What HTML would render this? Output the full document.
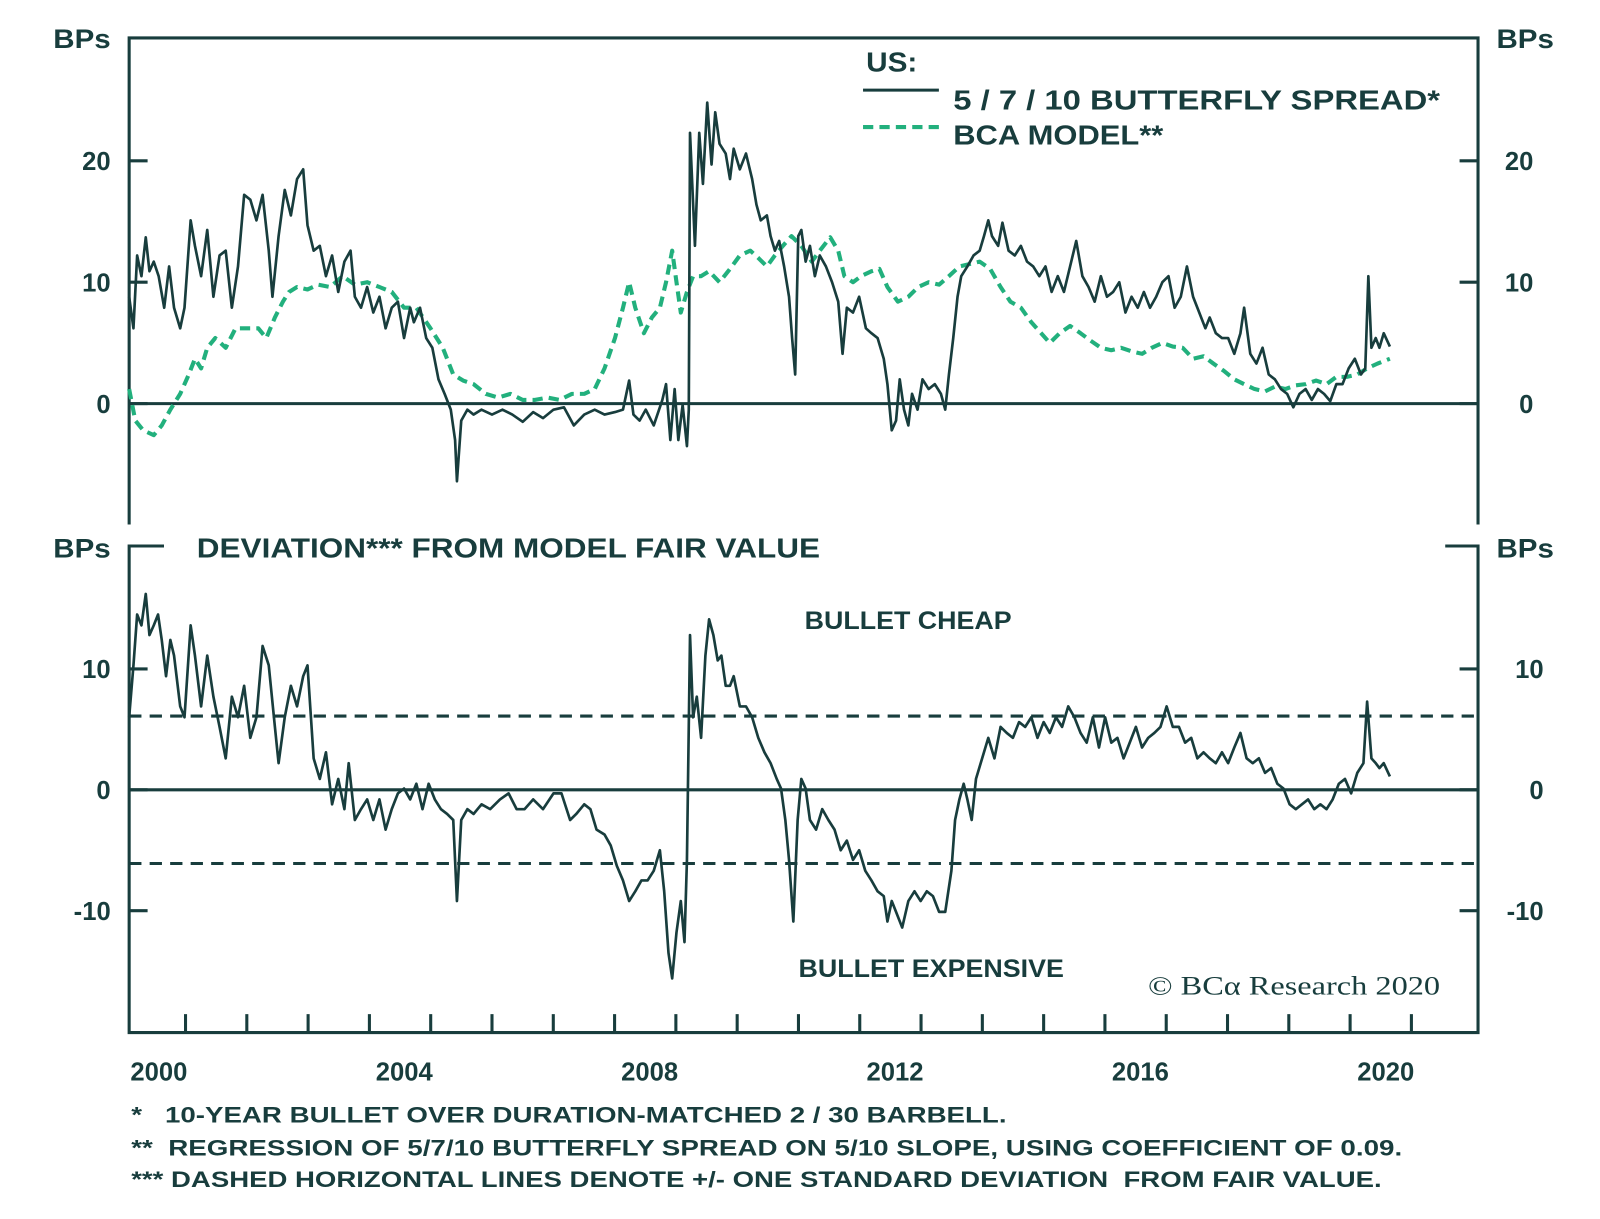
<!DOCTYPE html>
<html><head><meta charset="utf-8">
<style>
html,body{margin:0;padding:0;background:#fff;}
svg{display:block;}
text{font-family:"Liberation Sans",sans-serif;font-weight:bold;fill:#183d3d;}
</style></head>
<body>
<svg id="chart" width="1600" height="1219" viewBox="0 0 1561 1190" preserveAspectRatio="none" xmlns="http://www.w3.org/2000/svg">
<g id="static">
  <path d="M126,512 V37 H1442 V512" fill="none" stroke="#183d3d" stroke-width="3"/>
  <path d="M160,533 H126 V1008 H1442 V533 H1410" fill="none" stroke="#183d3d" stroke-width="3"/>
  <text x="52" y="47" font-size="26" textLength="56" lengthAdjust="spacingAndGlyphs">BPs</text>
  <text x="1460" y="47" font-size="26" textLength="56" lengthAdjust="spacingAndGlyphs">BPs</text>
  <text x="52" y="544" font-size="26" textLength="56" lengthAdjust="spacingAndGlyphs">BPs</text>
  <text x="1460" y="544" font-size="26" textLength="56" lengthAdjust="spacingAndGlyphs">BPs</text>
  <text x="845" y="70" font-size="27" textLength="50" lengthAdjust="spacingAndGlyphs">US:</text>
  <line x1="842" y1="88" x2="916" y2="88" stroke="#183d3d" stroke-width="3"/>
  <text x="930" y="107" font-size="27" textLength="475" lengthAdjust="spacingAndGlyphs">5 / 7 / 10 BUTTERFLY SPREAD*</text>
  <line x1="842" y1="124" x2="916" y2="124" stroke="#22b07d" stroke-width="4" stroke-dasharray="10,6"/>
  <text x="930" y="141" font-size="27" textLength="205" lengthAdjust="spacingAndGlyphs">BCA MODEL**</text>
  <text x="192" y="544" font-size="27" textLength="608" lengthAdjust="spacingAndGlyphs">DEVIATION*** FROM MODEL FAIR VALUE</text>
  <text x="785" y="614" font-size="24" textLength="202" lengthAdjust="spacingAndGlyphs">BULLET CHEAP</text>
  <text x="779" y="954" font-size="24" textLength="259" lengthAdjust="spacingAndGlyphs">BULLET EXPENSIVE</text>
  <text x="1120" y="971" font-size="26" textLength="285" lengthAdjust="spacingAndGlyphs" style="font-family:'Liberation Serif',serif;font-weight:normal">© BCα Research 2020</text>
  <text x="128" y="1096" font-size="22" textLength="854" lengthAdjust="spacingAndGlyphs">*&#160;&#160;&#160;10-YEAR BULLET OVER DURATION-MATCHED 2 / 30 BARBELL.</text>
  <text x="128" y="1128" font-size="22" textLength="1240" lengthAdjust="spacingAndGlyphs">**&#160;&#160;REGRESSION OF 5/7/10 BUTTERFLY SPREAD ON 5/10 SLOPE, USING COEFFICIENT OF 0.09.</text>
  <text x="128" y="1159" font-size="22" textLength="1220" lengthAdjust="spacingAndGlyphs">***&#160;DASHED HORIZONTAL LINES DENOTE +/- ONE STANDARD DEVIATION&#160;&#160;FROM FAIR VALUE.</text>
</g>
<g id="dyn"></g>
</svg>
<script>
const flyDates=[1999.50,1999.57,1999.63,1999.70,1999.77,1999.83,1999.90,1999.98,2000.07,2000.15,2000.23,2000.33,2000.40,2000.50,2000.57,2000.67,2000.77,2000.87,2000.97,2001.07,2001.17,2001.27,2001.37,2001.47,2001.57,2001.67,2001.77,2001.83,2001.93,2002.03,2002.13,2002.23,2002.33,2002.40,2002.50,2002.60,2002.70,2002.80,2002.90,2003.00,2003.10,2003.17,2003.27,2003.37,2003.47,2003.57,2003.67,2003.77,2003.87,2003.97,2004.07,2004.13,2004.23,2004.33,2004.43,2004.53,2004.63,2004.73,2004.80,2004.83,2004.90,2005.00,2005.10,2005.23,2005.40,2005.57,2005.73,2005.90,2006.07,2006.23,2006.40,2006.57,2006.73,2006.90,2007.07,2007.23,2007.40,2007.53,2007.63,2007.70,2007.80,2007.90,2008.03,2008.17,2008.23,2008.30,2008.37,2008.43,2008.50,2008.57,2008.60,2008.62,2008.70,2008.77,2008.83,2008.90,2008.97,2009.03,2009.10,2009.20,2009.27,2009.33,2009.43,2009.53,2009.63,2009.70,2009.77,2009.87,2009.93,2010.00,2010.07,2010.15,2010.23,2010.28,2010.33,2010.38,2010.43,2010.50,2010.57,2010.65,2010.73,2010.83,2010.93,2011.03,2011.10,2011.17,2011.27,2011.37,2011.48,2011.57,2011.67,2011.77,2011.83,2011.90,2011.97,2012.03,2012.10,2012.17,2012.23,2012.32,2012.40,2012.50,2012.60,2012.70,2012.77,2012.83,2012.90,2012.97,2013.03,2013.13,2013.23,2013.33,2013.40,2013.47,2013.53,2013.63,2013.70,2013.80,2013.90,2014.00,2014.10,2014.20,2014.30,2014.40,2014.50,2014.60,2014.70,2014.80,2014.90,2015.00,2015.10,2015.20,2015.30,2015.40,2015.50,2015.60,2015.70,2015.80,2015.90,2016.00,2016.10,2016.20,2016.30,2016.40,2016.50,2016.60,2016.70,2016.80,2016.90,2017.00,2017.07,2017.17,2017.27,2017.37,2017.47,2017.57,2017.63,2017.73,2017.83,2017.93,2018.03,2018.13,2018.23,2018.33,2018.43,2018.53,2018.63,2018.73,2018.83,2018.93,2019.03,2019.13,2019.23,2019.33,2019.43,2019.53,2019.60,2019.65,2019.70,2019.77,2019.83,2019.90,2020.00];
const flyValues=[8.8,6.2,12.2,10.5,13.7,10.9,11.7,10.5,7.9,11.3,7.9,6.2,7.9,15.1,13.0,10.5,14.3,8.8,12.2,12.6,7.9,11.3,17.2,16.8,15.1,17.2,12.6,8.8,13.8,17.6,15.5,18.5,19.3,14.7,12.6,13.0,10.5,12.2,9.2,11.7,12.6,8.8,7.9,9.6,7.5,8.8,6.2,7.9,8.4,5.4,7.9,6.7,7.9,5.4,4.6,2.0,0.8,-0.5,-3.0,-6.4,-1.4,-0.5,-0.9,-0.5,-0.9,-0.5,-0.9,-1.5,-0.7,-1.2,-0.5,-0.3,-1.8,-0.9,-0.5,-0.9,-0.7,-0.5,1.9,-0.9,-1.4,-0.5,-1.8,0.3,1.6,-3.0,1.2,-3.0,-0.1,-3.5,-0.5,22.3,13.0,22.3,18.1,24.8,19.7,24.0,21.4,20.6,18.5,21.0,19.3,20.6,18.5,16.4,15.1,15.5,13.8,12.6,13.4,11.3,8.8,5.4,2.4,13.8,14.3,11.7,13.0,10.5,12.2,11.3,10.0,8.4,4.1,7.9,7.5,8.8,6.2,5.8,5.4,3.7,1.6,-2.2,-1.4,2.0,-0.5,-1.8,0.8,-0.5,2.0,1.2,1.6,0.8,-0.5,2.4,5.4,8.8,10.5,11.3,12.2,12.6,13.8,15.1,13.8,13.0,14.9,12.6,12.2,13.0,11.7,11.3,10.5,11.3,9.2,10.5,9.2,11.3,13.4,10.5,9.6,8.4,10.5,8.8,9.2,10.0,7.5,8.8,7.9,9.2,7.9,8.8,10.0,10.5,7.9,8.8,11.3,8.8,7.5,6.2,7.1,5.8,5.4,5.4,4.1,5.8,7.9,4.1,3.3,4.6,2.4,2.0,1.2,0.8,-0.3,0.8,1.2,0.3,1.2,0.8,0.2,1.6,1.6,2.9,3.7,2.4,2.9,10.5,4.6,5.4,4.6,5.8,4.7];
const modelDates=[1999.50,1999.60,1999.73,1999.90,2000.03,2000.17,2000.33,2000.47,2000.57,2000.67,2000.77,2000.90,2001.07,2001.23,2001.40,2001.60,2001.73,2001.87,2002.00,2002.10,2002.23,2002.40,2002.57,2002.77,2002.97,2003.17,2003.37,2003.57,2003.77,2003.97,2004.17,2004.40,2004.60,2004.77,2004.93,2005.10,2005.30,2005.50,2005.70,2005.90,2006.10,2006.30,2006.50,2006.70,2006.90,2007.07,2007.23,2007.40,2007.53,2007.63,2007.73,2007.87,2008.00,2008.13,2008.23,2008.33,2008.40,2008.47,2008.57,2008.67,2008.80,2008.93,2009.10,2009.27,2009.43,2009.60,2009.73,2009.87,2010.00,2010.13,2010.27,2010.43,2010.60,2010.73,2010.90,2011.03,2011.13,2011.27,2011.40,2011.57,2011.70,2011.83,2012.00,2012.17,2012.33,2012.50,2012.67,2012.83,2013.00,2013.17,2013.33,2013.50,2013.67,2013.83,2014.00,2014.17,2014.33,2014.47,2014.63,2014.80,2014.97,2015.13,2015.30,2015.47,2015.63,2015.80,2015.97,2016.13,2016.30,2016.47,2016.63,2016.80,2016.97,2017.13,2017.30,2017.47,2017.63,2017.80,2017.97,2018.13,2018.30,2018.47,2018.63,2018.80,2018.97,2019.13,2019.30,2019.47,2019.63,2019.80,2020.00];
const modelValues=[1.2,-1.4,-2.2,-2.6,-1.8,-0.5,0.8,2.4,3.7,2.9,4.6,5.4,4.6,6.2,6.2,6.2,5.4,7.1,8.4,9.2,9.6,9.4,9.8,9.6,10.5,9.8,10.0,9.6,9.2,7.9,7.9,6.2,4.6,2.4,1.9,1.6,0.8,0.5,0.8,0.3,0.3,0.5,0.3,0.8,0.8,1.2,2.9,5.4,7.9,10.0,7.9,5.8,7.1,7.9,10.0,12.6,10.0,7.5,9.2,10.5,10.5,10.9,10.0,11.1,12.2,12.6,12.0,11.3,12.2,13.0,13.8,13.0,11.7,12.6,13.7,12.6,10.5,10.0,10.5,10.9,11.1,9.6,8.4,8.8,9.6,10.0,9.8,10.5,11.3,11.5,11.7,11.1,9.6,8.4,7.9,6.7,5.8,5.0,5.8,6.4,5.8,5.2,4.6,4.4,4.6,4.3,4.1,4.6,5.0,4.7,4.6,3.7,3.9,3.3,2.7,2.0,1.6,1.2,1.0,1.4,1.2,1.5,1.6,1.9,1.6,2.2,2.2,2.4,2.9,3.3,3.7];
const devDates=[1999.50,1999.57,1999.63,1999.70,1999.77,1999.83,1999.90,1999.97,2000.03,2000.10,2000.17,2000.23,2000.33,2000.40,2000.50,2000.57,2000.67,2000.77,2000.87,2000.97,2001.07,2001.17,2001.27,2001.37,2001.47,2001.57,2001.67,2001.77,2001.87,2001.93,2002.03,2002.13,2002.23,2002.33,2002.40,2002.50,2002.60,2002.70,2002.80,2002.90,2003.00,2003.07,2003.17,2003.27,2003.37,2003.47,2003.57,2003.67,2003.77,2003.87,2003.97,2004.07,2004.17,2004.27,2004.37,2004.47,2004.57,2004.67,2004.77,2004.83,2004.90,2005.00,2005.10,2005.23,2005.37,2005.53,2005.67,2005.80,2005.93,2006.07,2006.23,2006.40,2006.53,2006.67,2006.77,2006.90,2007.00,2007.10,2007.23,2007.33,2007.43,2007.53,2007.63,2007.73,2007.83,2007.93,2008.03,2008.13,2008.20,2008.27,2008.33,2008.40,2008.47,2008.53,2008.57,2008.62,2008.67,2008.73,2008.80,2008.87,2008.93,2009.00,2009.07,2009.13,2009.20,2009.27,2009.33,2009.43,2009.53,2009.63,2009.73,2009.83,2009.93,2010.03,2010.10,2010.17,2010.23,2010.30,2010.37,2010.43,2010.50,2010.57,2010.67,2010.77,2010.87,2010.97,2011.07,2011.17,2011.27,2011.37,2011.47,2011.57,2011.67,2011.77,2011.83,2011.90,2011.97,2012.07,2012.17,2012.27,2012.37,2012.47,2012.57,2012.67,2012.77,2012.87,2012.93,2013.00,2013.07,2013.13,2013.20,2013.27,2013.37,2013.47,2013.57,2013.67,2013.77,2013.87,2013.97,2014.07,2014.17,2014.27,2014.37,2014.47,2014.57,2014.67,2014.77,2014.87,2014.97,2015.07,2015.17,2015.27,2015.37,2015.47,2015.57,2015.67,2015.77,2015.87,2015.97,2016.07,2016.17,2016.27,2016.37,2016.47,2016.57,2016.67,2016.77,2016.87,2016.97,2017.07,2017.17,2017.27,2017.37,2017.47,2017.57,2017.67,2017.77,2017.87,2017.97,2018.07,2018.17,2018.27,2018.37,2018.47,2018.57,2018.67,2018.77,2018.87,2018.97,2019.07,2019.17,2019.27,2019.37,2019.47,2019.57,2019.63,2019.70,2019.77,2019.83,2019.90,2020.00];
const devValues=[6.0,10.3,14.5,13.6,16.2,12.8,13.6,14.5,12.4,9.4,12.4,11.1,6.9,6.0,13.6,11.1,6.9,11.1,7.7,5.2,2.6,7.7,6.0,8.6,4.3,6.0,11.9,10.3,5.2,2.2,6.0,8.6,6.9,9.4,10.3,2.6,0.9,3.1,-1.2,0.9,-1.6,2.2,-2.5,-1.6,-0.8,-2.5,-0.8,-3.3,-1.6,-0.3,0.1,-0.8,0.5,-1.6,0.5,-0.8,-1.6,-2.0,-2.5,-9.2,-2.5,-1.6,-2.0,-1.2,-1.6,-0.8,-0.3,-1.6,-1.6,-0.8,-1.6,-0.3,-0.3,-2.5,-2.0,-1.2,-1.6,-3.3,-3.7,-4.6,-6.3,-7.5,-9.2,-8.4,-7.5,-7.5,-6.7,-5.0,-8.4,-13.5,-15.6,-11.8,-9.2,-12.6,-5.8,12.8,6.0,7.7,4.3,11.1,14.1,12.8,10.7,11.1,8.6,8.6,9.4,6.9,6.9,6.0,4.3,3.1,2.2,0.9,0.1,-2.5,-5.8,-10.9,-2.5,0.9,0.1,-2.5,-3.3,-1.6,-2.5,-3.3,-5.0,-4.2,-5.8,-5.0,-6.7,-7.5,-8.4,-8.8,-10.9,-9.2,-10.1,-11.4,-9.2,-8.4,-9.2,-8.4,-8.8,-10.1,-10.1,-6.7,-2.5,-0.8,0.5,-0.8,-2.5,0.9,2.6,4.3,2.6,5.2,4.7,4.3,5.6,5.2,6.0,4.3,5.6,4.7,6.0,5.2,6.9,6.0,4.7,3.9,6.0,3.5,6.0,3.9,4.3,2.6,3.9,5.2,3.5,4.3,4.7,5.2,6.9,5.2,5.2,3.9,4.3,2.6,3.1,2.6,2.2,3.1,2.2,3.5,4.7,2.6,2.2,2.6,1.4,1.8,0.5,0.1,-1.2,-1.6,-1.2,-0.8,-1.6,-1.2,-1.6,-0.8,0.5,0.9,-0.3,1.4,2.2,7.3,2.6,2.2,1.8,2.2,1.1];
const topTicks=[20,10,0];
const bottomTicks=[10,0,-10];
const stdBand=[6.1,-6.1];
const tickYears=[2000,2001,2002,2003,2004,2005,2006,2007,2008,2009,2010,2011,2012,2013,2014,2015,2016,2017,2018,2019,2020];
const yearLabels=["2000","2004","2008","2012","2016","2020"];

const NS="http://www.w3.org/2000/svg";
const dyn=document.getElementById('dyn');
const xScale=d=>126+(d-1999.5)*60;
const yTop=v=>394-v*11.85;
const yBot=v=>771-v*11.8;
const C="#183d3d";
function mk(tag,attrs){const e=document.createElementNS(NS,tag);for(const k in attrs)e.setAttribute(k,attrs[k]);dyn.appendChild(e);return e;}

topTicks.forEach(t=>{
  const y=yTop(t);
  let l=mk('line',{x1:126,x2:144,y1:y,y2:y,stroke:C,'stroke-width':3});
  
  
  let r=mk('line',{x1:1424,x2:1442,y1:y,y2:y,stroke:C,'stroke-width':3});
  
  
  let a=mk('text',{x:108,y:y+9,'font-size':25,'text-anchor':'end'});a.textContent=t;
  
  
  let b=mk('text',{x:1496,y:y+9,'font-size':25,'text-anchor':'end'});b.textContent=t;
  
  
});
bottomTicks.forEach(t=>{
  const y=yBot(t);
  let l=mk('line',{x1:126,x2:144,y1:y,y2:y,stroke:C,'stroke-width':3});
  
  
  let r=mk('line',{x1:1424,x2:1442,y1:y,y2:y,stroke:C,'stroke-width':3});
  
  
  let a=mk('text',{x:108,y:y+9,'font-size':25,'text-anchor':'end'});a.textContent=t;
  
  
  let b=mk('text',{x:1506,y:y+9,'font-size':25,'text-anchor':'end'});b.textContent=t;
  
  
});
tickYears.forEach(yr=>{
  const x=181+(yr-2000)*59.8;
  let t=mk('line',{x1:x,x2:x,y1:990,y2:1008,stroke:C,'stroke-width':3});
  
  
});
yearLabels.forEach(s=>{
  const x=155+(parseInt(s)-2000)*59.85;
  let t=mk('text',{x:x,y:1055,'font-size':25,'text-anchor':'middle'});t.textContent=s;
  
  
});
let z1=mk('line',{x1:126,x2:1442,y1:yTop(0),y2:yTop(0),stroke:C,'stroke-width':3});


let z2=mk('line',{x1:126,x2:1442,y1:yBot(0),y2:yBot(0),stroke:C,'stroke-width':3});


stdBand.forEach(v=>{
  let d=mk('line',{x1:126,x2:1442,y1:yBot(v),y2:yBot(v),stroke:C,'stroke-width':3,'stroke-dasharray':'12,8'});
  
  
});
function pathOf(ds,vs,ys){return ds.map((d,i)=>(i?'L':'M')+xScale(d).toFixed(1)+','+ys(vs[i]).toFixed(1)).join(' ');}
let m=mk('path',{d:pathOf(modelDates,modelValues,yTop),fill:'none',stroke:'#22b07d','stroke-width':4,'stroke-dasharray':'10,6','stroke-linejoin':'round'});


let f=mk('path',{d:pathOf(flyDates,flyValues,yTop),fill:'none',stroke:C,'stroke-width':2.6,'stroke-linejoin':'round'});


let dv=mk('path',{d:pathOf(devDates,devValues,yBot),fill:'none',stroke:C,'stroke-width':2.6,'stroke-linejoin':'round'});


</script>
</body></html>
